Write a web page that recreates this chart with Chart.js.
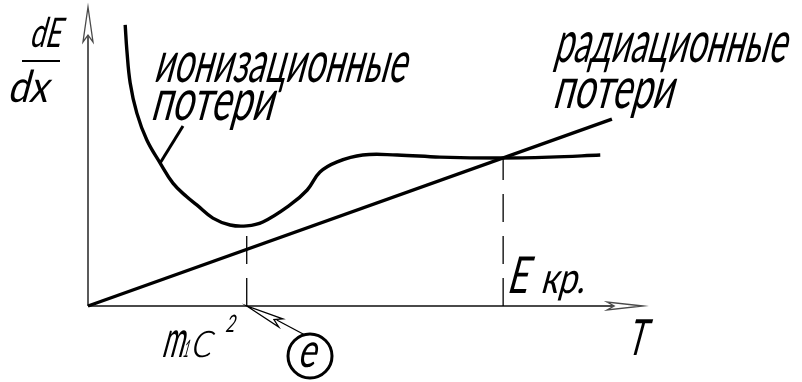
<!DOCTYPE html>
<html lang="ru">
<head>
<meta charset="UTF-8">
<title>Потери энергии</title>
<script src="https://cdn.jsdelivr.net/npm/chart.js@4.4.1/dist/chart.umd.min.js"></script>
<style>
  body { margin: 0; background: #fff; }
</style>
</head>
<body>
<canvas id="losses" width="802" height="382"></canvas>
<script>
// ионизационные потери: T и dE/dx (условные единицы)
const ionT    = [0.67, 0.70, 0.76, 0.88, 1.06, 1.30, 1.53, 1.78, 1.96, 2.25, 2.56, 2.86, 3.15, 3.64, 3.95, 4.18, 4.49, 4.95, 5.57, 6.34, 7.42, 8.32, 9.23];
const ionLoss = [9.40, 8.56, 7.46, 6.45, 5.55, 4.78, 4.11, 3.65, 3.38, 2.94, 2.71, 2.68, 2.81, 3.38, 3.88, 4.48, 4.82, 5.05, 5.05, 4.98, 4.95, 4.98, 5.05];
// радиационные потери - прямая от начала координат
const radT    = [0, 9.44];
const radLoss = [0, 6.25];
// отметки на оси T
const markT    = [2.86, 7.48];      // m1c^2 и E кр.
const markLoss = [2.54, 4.95];      // докуда идёт штрих
const axisMax  = 10;

const pts = (xs, ys) => xs.map((x, i) => ({ x, y: ys[i] }));

const SKEW = -0.27;  // наклон чертёжного шрифта

function label(ctx, text, left, base, size, width, weight = 400) {
  ctx.save();
  ctx.font = `${weight} ${size}px Lato`;
  const w = ctx.measureText(text).width;
  ctx.translate(left, base);
  ctx.transform(1, 0, SKEW, 1, 0, 0);
  ctx.scale(width / w, 1);
  ctx.textBaseline = 'alphabetic';
  ctx.fillStyle = '#000';
  ctx.fillText(text, 0, 0);
  ctx.restore();
}

// полая стрелка с вырезом
function arrow(ctx, tx, ty, ang, len, hw) {
  ctx.save();
  ctx.translate(tx, ty);
  ctx.rotate(ang);
  ctx.beginPath();
  ctx.moveTo(0, 0);
  ctx.lineTo(-len, -hw);
  ctx.lineTo(-len * 0.8, 0);
  ctx.lineTo(-len, hw);
  ctx.closePath();
  ctx.fillStyle = '#fff';
  ctx.fill();
  ctx.stroke();
  ctx.restore();
}

const drawing = {
  id: 'drawing',
  beforeDatasetsDraw(chart) {
    const { ctx, scales: { x, y } } = chart;
    const x0 = x.getPixelForValue(0), y0 = y.getPixelForValue(0);
    const xe = x.getPixelForValue(axisMax), ye = y.getPixelForValue(axisMax);
    ctx.save();
    ctx.strokeStyle = '#4a4a4a';
    ctx.lineWidth = 1.8;
    ctx.beginPath();
    ctx.moveTo(x0, y0); ctx.lineTo(xe - 30, y0);
    ctx.moveTo(x0, y0); ctx.lineTo(x0, ye + 28);
    ctx.stroke();
    ctx.lineWidth = 1.3;
    arrow(ctx, xe, y0, 0, 36, 4);
    arrow(ctx, x0, ye, -Math.PI / 2, 35, 5);
    ctx.restore();
  },
  afterDatasetsDraw(chart) {
    const { ctx, scales: { x, y } } = chart;
    ctx.save();
    ctx.strokeStyle = '#000';

    // выноска к кривой ионизационных потерь
    ctx.lineWidth = 3;
    ctx.beginPath();
    ctx.moveTo(x.getPixelForValue(1.30), y.getPixelForValue(4.78));
    ctx.lineTo(183, 126);
    ctx.stroke();

    // частица e со стрелкой к m1c^2
    const mx = x.getPixelForValue(markT[0]), my = y.getPixelForValue(0);
    ctx.lineWidth = 1.3;
    ctx.beginPath();
    ctx.moveTo(305, 335); ctx.lineTo(mx + 30, my + 14);
    ctx.stroke();
    arrow(ctx, mx, my, Math.atan2(my - 335, mx - 305), 38, 4.5);
    ctx.lineWidth = 3;
    ctx.beginPath();
    ctx.arc(310, 356, 22, 0, Math.PI * 2);
    ctx.stroke();
    ctx.restore();

    label(ctx, 'ионизационные', 153, 82, 58, 252);
    label(ctx, 'потери', 150, 120, 58, 122);
    label(ctx, 'радиационные', 553, 62, 58, 232);
    label(ctx, 'потери', 552, 108, 58, 120);

    label(ctx, 'dE', 29, 47, 41, 31);
    ctx.save();
    ctx.strokeStyle = '#000';
    ctx.lineWidth = 1.8;
    ctx.beginPath();
    ctx.moveTo(22, 61); ctx.lineTo(60, 61);
    ctx.stroke();
    ctx.restore();
    label(ctx, 'dx', 7, 102, 44, 40);

    label(ctx, 'm', 161, 357, 52, 22);
    label(ctx, '1', 182, 357, 24, 6);
    label(ctx, 'c', 189, 357, 52, 22, 300);
    label(ctx, '2', 225, 332, 24, 9);
    label(ctx, 'e', 297, 367, 48, 18);

    label(ctx, 'E', 506, 293, 51, 21);
    label(ctx, 'кр.', 540, 293, 43, 44);
    label(ctx, 'T', 626, 355, 50, 18);
  }
};

const lineStyle = { showLine: true, pointRadius: 0, borderColor: '#000', fill: false, clip: false };

new Chart(document.getElementById('losses'), {
  type: 'scatter',
  data: {
    datasets: [
      { ...lineStyle, label: 'ионизационные потери', data: pts(ionT, ionLoss), borderWidth: 3.4, tension: 0.4 },
      { ...lineStyle, label: 'радиационные потери', data: pts(radT, radLoss), borderWidth: 3.4 },
      { ...lineStyle, label: 'm1c2', data: pts([markT[0], markT[0]], [0, markLoss[0]]), borderWidth: 1.3, borderDash: [28, 14] },
      { ...lineStyle, label: 'E кр.', data: pts([markT[1], markT[1]], [0, markLoss[1]]), borderWidth: 1.3, borderDash: [28, 14] }
    ]
  },
  options: {
    responsive: false,
    animation: false,
    devicePixelRatio: 1,
    layout: { padding: { left: 88, right: 159, top: 7, bottom: 76 } },
    plugins: { legend: { display: false }, tooltip: { enabled: false } },
    scales: {
      x: { type: 'linear', min: 0, max: axisMax, display: false },
      y: { type: 'linear', min: 0, max: axisMax, display: false }
    }
  },
  plugins: [drawing]
});
</script>
</body>
</html>
